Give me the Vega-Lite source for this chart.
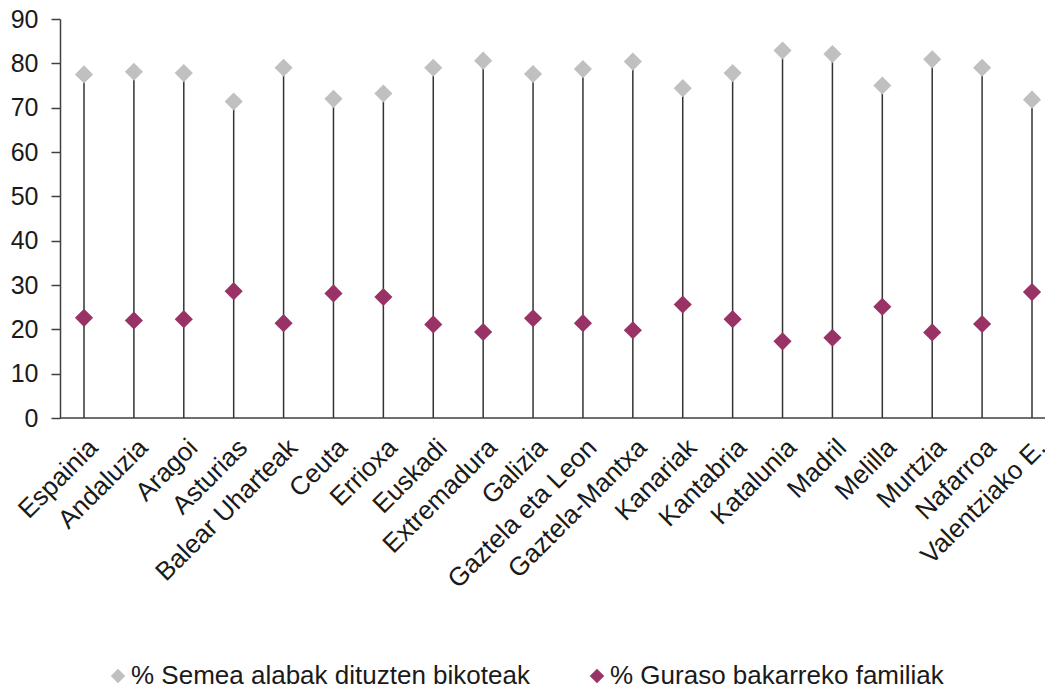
{
  "$schema": "https://vega.github.io/schema/vega-lite/v6.json",
  "width": 985,
  "height": 399,
  "autosize": "none",
  "padding": {"left": 60, "top": 19, "right": 0, "bottom": 273},
  "background": "white",
  "config": {
    "view": {"stroke": null},
    "font": "Liberation Sans",
    "axis": {"labelFont": "Liberation Sans", "labelColor": "#1a1a1a"}
  },
  "data": {
    "values": [
      {"region": "Espainia", "serie": "% Semea alabak dituzten bikoteak", "balioa": 77.5},
      {"region": "Andaluzia", "serie": "% Semea alabak dituzten bikoteak", "balioa": 78.1},
      {"region": "Aragoi", "serie": "% Semea alabak dituzten bikoteak", "balioa": 77.8},
      {"region": "Asturias", "serie": "% Semea alabak dituzten bikoteak", "balioa": 71.4},
      {"region": "Balear Uharteak", "serie": "% Semea alabak dituzten bikoteak", "balioa": 79.0},
      {"region": "Ceuta", "serie": "% Semea alabak dituzten bikoteak", "balioa": 72.0},
      {"region": "Errioxa", "serie": "% Semea alabak dituzten bikoteak", "balioa": 73.2},
      {"region": "Euskadi", "serie": "% Semea alabak dituzten bikoteak", "balioa": 79.0},
      {"region": "Extremadura", "serie": "% Semea alabak dituzten bikoteak", "balioa": 80.6},
      {"region": "Galizia", "serie": "% Semea alabak dituzten bikoteak", "balioa": 77.6},
      {"region": "Gaztela eta Leon", "serie": "% Semea alabak dituzten bikoteak", "balioa": 78.7},
      {"region": "Gaztela-Mantxa", "serie": "% Semea alabak dituzten bikoteak", "balioa": 80.4},
      {"region": "Kanariak", "serie": "% Semea alabak dituzten bikoteak", "balioa": 74.4},
      {"region": "Kantabria", "serie": "% Semea alabak dituzten bikoteak", "balioa": 77.8},
      {"region": "Katalunia", "serie": "% Semea alabak dituzten bikoteak", "balioa": 82.9},
      {"region": "Madril", "serie": "% Semea alabak dituzten bikoteak", "balioa": 82.1},
      {"region": "Melilla", "serie": "% Semea alabak dituzten bikoteak", "balioa": 75.0},
      {"region": "Murtzia", "serie": "% Semea alabak dituzten bikoteak", "balioa": 80.9},
      {"region": "Nafarroa", "serie": "% Semea alabak dituzten bikoteak", "balioa": 79.0},
      {"region": "Valentziako E.", "serie": "% Semea alabak dituzten bikoteak", "balioa": 71.8},
      {"region": "Espainia", "serie": "% Guraso bakarreko familiak", "balioa": 22.6},
      {"region": "Andaluzia", "serie": "% Guraso bakarreko familiak", "balioa": 22.0},
      {"region": "Aragoi", "serie": "% Guraso bakarreko familiak", "balioa": 22.3},
      {"region": "Asturias", "serie": "% Guraso bakarreko familiak", "balioa": 28.6},
      {"region": "Balear Uharteak", "serie": "% Guraso bakarreko familiak", "balioa": 21.4},
      {"region": "Ceuta", "serie": "% Guraso bakarreko familiak", "balioa": 28.1},
      {"region": "Errioxa", "serie": "% Guraso bakarreko familiak", "balioa": 27.3},
      {"region": "Euskadi", "serie": "% Guraso bakarreko familiak", "balioa": 21.1},
      {"region": "Extremadura", "serie": "% Guraso bakarreko familiak", "balioa": 19.4},
      {"region": "Galizia", "serie": "% Guraso bakarreko familiak", "balioa": 22.5},
      {"region": "Gaztela eta Leon", "serie": "% Guraso bakarreko familiak", "balioa": 21.4},
      {"region": "Gaztela-Mantxa", "serie": "% Guraso bakarreko familiak", "balioa": 19.8},
      {"region": "Kanariak", "serie": "% Guraso bakarreko familiak", "balioa": 25.6},
      {"region": "Kantabria", "serie": "% Guraso bakarreko familiak", "balioa": 22.3},
      {"region": "Katalunia", "serie": "% Guraso bakarreko familiak", "balioa": 17.3},
      {"region": "Madril", "serie": "% Guraso bakarreko familiak", "balioa": 18.1},
      {"region": "Melilla", "serie": "% Guraso bakarreko familiak", "balioa": 25.1},
      {"region": "Murtzia", "serie": "% Guraso bakarreko familiak", "balioa": 19.3},
      {"region": "Nafarroa", "serie": "% Guraso bakarreko familiak", "balioa": 21.2},
      {"region": "Valentziako E.", "serie": "% Guraso bakarreko familiak", "balioa": 28.4}
    ]
  },
  "encoding": {
    "x": {
      "field": "region",
      "type": "nominal",
      "sort": null,
      "scale": {"type": "point", "range": [24, 972], "padding": 0},
      "axis": {
        "title": null,
        "domain": false,
        "ticks": false,
        "labelAngle": -45,
        "labelAlign": "right",
        "labelBaseline": "top",
        "labelFontSize": 26,
        "labelPadding": 16,
        "labelOverlap": false,
        "labelBound": false,
        "labelFlush": false,
        "labelLimit": 400
      }
    }
  },
  "layer": [
    {
      "transform": [{"filter": "datum.serie === '% Semea alabak dituzten bikoteak'"}],
      "mark": {"type": "rule", "color": "#333333", "strokeWidth": 1.5},
      "encoding": {
        "y": {"field": "balioa", "type": "quantitative"},
        "y2": {"datum": 0}
      }
    },
    {
      "mark": {"type": "point", "shape": "diamond", "filled": true, "size": 330, "opacity": 1},
      "encoding": {
        "y": {
          "field": "balioa",
          "type": "quantitative",
          "scale": {"domain": [0, 90], "nice": false},
          "axis": {
            "title": null,
            "values": [0, 10, 20, 30, 40, 50, 60, 70, 80, 90],
            "grid": false,
            "domainColor": "#404040",
            "domainWidth": 1.5,
            "tickColor": "#404040",
            "tickWidth": 1.5,
            "tickSize": 9,
            "labelFontSize": 25,
            "labelPadding": 13
          }
        },
        "color": {
          "field": "serie",
          "type": "nominal",
          "scale": {
            "domain": ["% Semea alabak dituzten bikoteak", "% Guraso bakarreko familiak"],
            "range": ["#c0c0c0", "#993366"]
          },
          "legend": {
            "title": null,
            "orient": "none",
            "legendX": 45,
            "legendY": 644,
            "direction": "horizontal",
            "columns": 2,
            "columnPadding": 54,
            "symbolType": "diamond",
            "symbolSize": 210,
            "symbolOffset": 0,
            "labelFontSize": 26,
            "labelOffset": 0,
            "labelLimit": 600,
            "labelColor": "#1a1a1a"
          }
        }
      }
    },
    {
      "data": {"values": [{"base": 0}]},
      "mark": {"type": "rule", "color": "#404040", "strokeWidth": 1.5},
      "encoding": {
        "x": null,
        "y": {"field": "base", "type": "quantitative"}
      }
    }
  ]
}
